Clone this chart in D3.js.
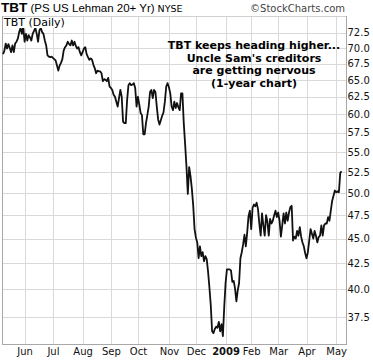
<!DOCTYPE html>
<html><head><meta charset="utf-8">
<script src="https://cdn.jsdelivr.net/npm/d3@7/dist/d3.min.js"></script>
<style>html,body{margin:0;padding:0;background:#fff;}svg{display:block;}</style>
</head><body>
<script>
// ---- data ----
const closes = [
69.0,69.5,70.7,69.9,70.6,70.0,69.3,70.4,69.3,70.7,
71.0,71.5,72.6,73.3,72.3,73.5,71.0,72.3,71.2,72.1,
71.7,71.2,72.3,72.8,73.3,72.3,71.0,72.9,73.3,72.6,
72.3,71.2,70.4,68.8,68.6,68.5,68.6,68.4,68.2,68.0,
67.2,66.4,67.2,67.6,68.2,69.6,70.1,70.4,71.0,70.6,
70.4,71.2,70.4,71.0,70.3,69.9,70.1,69.3,68.8,69.3,
69.9,70.1,69.0,68.5,68.1,68.3,68.1,67.3,66.8,66.0,
66.4,66.3,66.3,66.0,64.8,65.1,65.0,64.8,65.3,64.0,
63.8,63.5,62.8,62.5,61.8,61.1,62.3,63.5,62.5,59.0,
58.8,58.8,62.0,64.2,64.5,64.2,64.3,64.5,63.8,61.1,
62.5,61.4,60.2,59.9,57.3,57.3,58.8,59.9,61.1,63.2,
63.5,62.3,63.5,63.2,61.1,59.3,58.6,59.2,59.8,60.3,
61.8,64.0,64.5,63.9,63.0,61.1,60.6,61.8,60.9,61.6,
61.0,60.6,63.0,63.0,58.8,56.0,53.2,49.9,53.1,52.0,
50.5,48.6,46.0,45.1,44.6,43.0,44.2,43.2,43.6,42.7,
43.2,42.9,41.7,40.2,38.6,36.3,36.15,36.5,36.7,36.6,
37.1,36.3,36.9,35.9,38.4,40.6,41.9,41.9,41.9,41.8,
40.7,40.8,40.1,38.9,39.9,40.6,43.0,43.6,44.4,45.4,
44.2,45.6,47.4,48.0,46.0,48.3,48.7,48.5,48.9,48.2,
46.6,45.3,47.7,46.4,45.3,47.5,46.8,45.3,47.1,46.6,
46.9,47.5,48.0,47.3,47.8,46.9,45.2,46.4,47.7,46.6,
47.8,46.9,47.8,48.4,48.55,44.8,45.2,45.0,45.8,45.3,
46.2,45.2,44.6,44.2,43.5,43.0,43.6,44.8,46.0,45.5,
45.0,45.8,45.3,44.6,45.15,45.3,46.4,45.3,46.4,46.6,
46.6,47.3,46.9,48.0,49.1,49.7,50.3,50.1,50.2,50.1,
52.4,52.6
];
const monthLabels = ["Jun","Jul","Aug","Sep","Oct","Nov","Dec","2009","Feb","Mar","Apr","May"];
const monthStartDay = [16,37,59,80,100,123,143,165,184,204,225,247];
const priceTicks = [37.5,40.0,42.5,45.0,47.5,50.0,52.5,55.0,57.5,60.0,62.5,65.0,67.5,70.0,72.5];
const annotationLines = ["TBT keeps heading higher...","Uncle Sam's creditors","are getting nervous","(1-year chart)"];

// ---- layout ----
const W = 373, H = 361;
const plot = {left: 2, right: 346, top: 16, bottom: 344};

const svg = d3.select("body").append("svg").attr("width", W).attr("height", H);

const x = d3.scaleLinear().domain([0, closes.length - 1]).range([3, 341.6]);
const y = d3.scaleLog().domain([35.25, 75.36]).range([plot.bottom, plot.top]);
const crisp = v => Math.round(v) + 0.5;

// gridlines
const grid = svg.append("g");
grid.selectAll("line.h").data(priceTicks).join("line")
  .attr("x1", plot.left).attr("x2", plot.right)
  .attr("y1", d => crisp(y(d))).attr("y2", d => crisp(y(d)))
  .attr("stroke", "#d9d9d9").attr("stroke-width", 1);
grid.selectAll("line.v").data(monthStartDay).join("line")
  .attr("x1", d => crisp(x(d))).attr("x2", d => crisp(x(d)))
  .attr("y1", plot.top).attr("y2", plot.bottom)
  .attr("stroke", "#d9d9d9").attr("stroke-width", 1);

// frame
svg.append("line").attr("x1", plot.left).attr("x2", plot.right).attr("y1", plot.top + 0.5).attr("y2", plot.top + 0.5).attr("stroke", "#cfcfcf");
svg.append("line").attr("x1", plot.left + 0.5).attr("x2", plot.left + 0.5).attr("y1", plot.top).attr("y2", plot.bottom + 1).attr("stroke", "#a8a8a8");
svg.append("line").attr("x1", plot.left).attr("x2", plot.right + 1).attr("y1", plot.bottom + 0.5).attr("y2", plot.bottom + 0.5).attr("stroke", "#a8a8a8");
svg.append("line").attr("x1", plot.right + 0.5).attr("x2", plot.right + 0.5).attr("y1", plot.top).attr("y2", plot.bottom + 1).attr("stroke", "#a8a8a8");

// price line
const line = d3.line().x((d, i) => x(i)).y(d => y(d));
svg.append("path").datum(closes).attr("d", line)
  .attr("fill", "none").attr("stroke", "#111").attr("stroke-width", 1.8)
  .attr("stroke-linejoin", "round");

// in-plot label with white background
svg.append("rect").attr("x", plot.left + 1).attr("y", plot.top + 1).attr("width", 64).attr("height", 11).attr("fill", "#fff");
svg.append("text").attr("x", 4).attr("y", 26).text("TBT (Daily)")
  .attr("font-family", "DejaVu Sans, sans-serif").attr("font-size", 11).attr("fill", "#000");

// right axis labels
const yAxis = d3.axisRight(y).tickValues(priceTicks).tickFormat(d3.format(".1f")).tickSize(0).tickPadding(0);
const ya = svg.append("g").attr("transform", `translate(${plot.right + 1.5},0)`).call(yAxis);
ya.select(".domain").remove();
ya.selectAll("text").attr("font-family", "DejaVu Sans, sans-serif").attr("font-size", 10).attr("fill", "#111");

// bottom axis labels
const xAxis = d3.axisBottom(x).tickValues(monthStartDay).tickFormat((d, i) => monthLabels[i]).tickSize(0).tickPadding(0);
const xa = svg.append("g").attr("transform", `translate(0,${plot.bottom + 4})`).call(xAxis);
xa.select(".domain").remove();
xa.selectAll("text").attr("font-family", "DejaVu Sans, sans-serif").attr("font-size", 10).attr("fill", "#111")
  .attr("dy", "0.71em")
  .attr("font-weight", (d, i) => monthLabels[i] === "2009" ? "bold" : "normal");

// title
const title = svg.append("text").attr("x", 1).attr("y", 11.5).attr("fill", "#000");
title.append("tspan").text("TBT").attr("font-family", "Liberation Sans, Arial, sans-serif").attr("font-weight", "bold").attr("font-size", 13.5);
title.append("tspan").text(" (PS US Lehman 20+ Yr)").attr("font-family", "Liberation Sans, Arial, sans-serif").attr("font-size", 11.5);
title.append("tspan").text(" NYSE").attr("font-family", "DejaVu Sans, sans-serif").attr("font-size", 9.5);
svg.append("text").attr("x", 345).attr("y", 11.5).attr("text-anchor", "end").text("\u00A9StockCharts.com")
  .attr("font-family", "DejaVu Sans, sans-serif").attr("font-size", 10).attr("fill", "#444");

// annotation
svg.append("g").selectAll("text").data(annotationLines).join("text")
  .attr("x", 254).attr("y", (d, i) => 49 + i * 12.7)
  .attr("text-anchor", "middle").text(d => d)
  .attr("font-family", "DejaVu Sans, sans-serif").attr("font-weight", "bold").attr("font-size", 11).attr("fill", "#000");
</script>
</body></html>
